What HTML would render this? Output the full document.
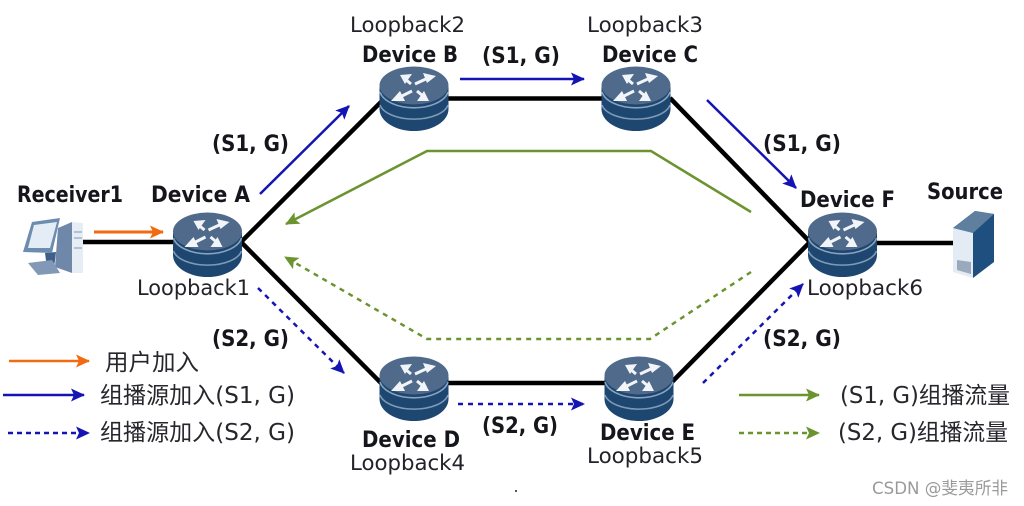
<!DOCTYPE html>
<html><head><meta charset="utf-8">
<style>
html,body{margin:0;padding:0;background:#fff;width:1024px;height:506px;overflow:hidden}
svg{display:block}
text{font-family:"DejaVu Sans","Noto Sans CJK SC",sans-serif}
.b{font-size:22px;font-weight:bold;fill:#15151c}
.l{font-size:21px;fill:#222228}
.z{font-size:23px;fill:#26262c}
</style></head><body>
<svg width="1024" height="506" viewBox="0 0 1024 506" xmlns="http://www.w3.org/2000/svg">
<defs>
<marker id="bl" markerWidth="15" markerHeight="15" refX="13" refY="7.500" orient="auto" markerUnits="userSpaceOnUse"><path d="M0 1L14 7.500L0 14L3 7.500z" fill="#1414b4"/></marker>
<marker id="gr" markerWidth="15" markerHeight="15" refX="13" refY="7.500" orient="auto" markerUnits="userSpaceOnUse"><path d="M0 1L14 7.500L0 14L3 7.500z" fill="#6b9430"/></marker>
<marker id="or" markerWidth="15" markerHeight="15" refX="13" refY="7.500" orient="auto" markerUnits="userSpaceOnUse"><path d="M0 1L14 7.500L0 14L3 7.500z" fill="#f26a12"/></marker>
<g id="r">
<path d="M-34.500 0V22A34.500 22 0 0 0 34.500 22V0z" fill="#1d4670"/>
<path d="M-34 5A34.500 19 0 0 0 34 5" fill="none" stroke="#8aa4bd" stroke-width="1.600"/>
<path d="M-34 18A34.500 17 0 0 0 34 18" fill="none" stroke="#7f9ab5" stroke-width="1.600"/>
<ellipse cx="0" cy="-1.500" rx="34.500" ry="19" fill="#506a8c"/>
<g stroke="#f2f5f8" stroke-width="3" fill="none">
<path d="M1 -3L14 -9"/><path d="M-3 -3L-9 -8"/><path d="M-2 4L-14 10"/><path d="M3 4L9 9"/>
</g>
<path d="M22 -11L9 -14L13 -4zM-14 -12L-2 -13L-9 -3zM-23 14L-9 14L-14 4zM15 14L3 14L10 4z" fill="#f2f5f8"/>
</g>
</defs>
<g stroke="#000" stroke-width="4.500" fill="none">
<path d="M70 242H175"/>
<path d="M241 242L381 102"/>
<path d="M241 242L381 383"/>
<path d="M448 98.500H604"/>
<path d="M448 383H606"/>
<path d="M670 98L810 242"/>
<path d="M672 382L810 242"/>
<path d="M875 243H955"/>
</g>
<path d="M94 232H163" stroke="#f26a12" stroke-width="3" fill="none" marker-end="url(#or)"/>
<path d="M260 194L349 106" stroke="#1414b4" stroke-width="2.500" fill="none" marker-end="url(#bl)"/>
<path d="M460 79H584" stroke="#1414b4" stroke-width="2.500" fill="none" marker-end="url(#bl)"/>
<path d="M707 100L796 188" stroke="#1414b4" stroke-width="2.500" fill="none" marker-end="url(#bl)"/>
<path d="M258 288L344 373" stroke="#1414b4" stroke-width="2.500" stroke-dasharray="5 5" fill="none" marker-end="url(#bl)"/>
<path d="M458 404H584" stroke="#1414b4" stroke-width="2.500" stroke-dasharray="5 5" fill="none" marker-end="url(#bl)"/>
<path d="M703 383L803 284" stroke="#1414b4" stroke-width="2.500" stroke-dasharray="5 5" fill="none" marker-end="url(#bl)"/>
<path d="M751 212L651 151H427L286 224" stroke="#6b9430" stroke-width="2.500" fill="none" marker-end="url(#gr)"/>
<path d="M751 272L650 339H427L285 257" stroke="#6b9430" stroke-width="2.500" stroke-dasharray="5 5" fill="none" marker-end="url(#gr)"/>
<use href="#r" x="207.500" y="233"/>
<use href="#r" x="414" y="87"/>
<use href="#r" x="636" y="87"/>
<use href="#r" x="414" y="377"/>
<use href="#r" x="639" y="377"/>
<use href="#r" x="842.500" y="233"/>
<g>
<path d="M72 222L83 223V273L72 273z" fill="#e6edf5"/>
<path d="M58 228L72 222V273L55 267z" fill="#6f88aa"/>
<path d="M45 253L56 252L54 268L47 268z" fill="#3f5f88"/>
<path d="M28 263L52 260L60 273L38 275z" fill="#8199b6"/>
<path d="M32 222L60 218L52 253L23 252z" fill="#6c8cb0"/>
<path d="M34 225L57 222L50 248L28 248z" fill="#e4ecf5"/>
<path d="M74 232H82M74 238H82M74 248H82" stroke="#9fb3ca" stroke-width="1.500"/>
</g>
<g>
<path d="M953 228L975 211L994 214V262L973 278z" fill="#1f4f7f"/>
<path d="M953 228L975 211L994 214L973 233z" fill="#5f7f9f"/>
<path d="M953 228L973 233V278L953 272z" fill="#e3ebf4"/>
<path d="M957 260L971 262V274L957 270z" fill="#9aa9bb"/>
</g>
<text class="b" x="17" y="202" textLength="106" lengthAdjust="spacingAndGlyphs">Receiver1</text>
<text class="b" x="151" y="202" textLength="99" lengthAdjust="spacingAndGlyphs">Device A</text>
<text class="b" x="362" y="62" textLength="96" lengthAdjust="spacingAndGlyphs">Device B</text>
<text class="b" x="602" y="62" textLength="96" lengthAdjust="spacingAndGlyphs">Device C</text>
<text class="b" x="362" y="447" textLength="98" lengthAdjust="spacingAndGlyphs">Device D</text>
<text class="b" x="600" y="440" textLength="95" lengthAdjust="spacingAndGlyphs">Device E</text>
<text class="b" x="800" y="207" textLength="95" lengthAdjust="spacingAndGlyphs">Device F</text>
<text class="b" x="927" y="199" textLength="76" lengthAdjust="spacingAndGlyphs">Source</text>
<text class="l" x="137" y="295" textLength="113" lengthAdjust="spacingAndGlyphs">Loopback1</text>
<text class="l" x="350" y="32" textLength="115" lengthAdjust="spacingAndGlyphs">Loopback2</text>
<text class="l" x="587" y="32" textLength="116" lengthAdjust="spacingAndGlyphs">Loopback3</text>
<text class="l" x="350" y="470" textLength="115" lengthAdjust="spacingAndGlyphs">Loopback4</text>
<text class="l" x="587" y="463" textLength="116" lengthAdjust="spacingAndGlyphs">Loopback5</text>
<text class="l" x="807" y="295" textLength="116" lengthAdjust="spacingAndGlyphs">Loopback6</text>
<text class="b" x="212" y="151" textLength="77" lengthAdjust="spacingAndGlyphs">(S1, G)</text>
<text class="b" x="482" y="63" textLength="78" lengthAdjust="spacingAndGlyphs">(S1, G)</text>
<text class="b" x="763" y="151" textLength="78" lengthAdjust="spacingAndGlyphs">(S1, G)</text>
<text class="b" x="212" y="346" textLength="77" lengthAdjust="spacingAndGlyphs">(S2, G)</text>
<text class="b" x="482" y="433" textLength="76" lengthAdjust="spacingAndGlyphs">(S2, G)</text>
<text class="b" x="763" y="346" textLength="78" lengthAdjust="spacingAndGlyphs">(S2, G)</text>
<path d="M9 361H89" stroke="#f26a12" stroke-width="2.500" fill="none" marker-end="url(#or)"/>
<path d="M3 395H84" stroke="#1414b4" stroke-width="2.500" fill="none" marker-end="url(#bl)"/>
<path d="M8 433H89" stroke="#1414b4" stroke-width="2.500" stroke-dasharray="5 4" fill="none" marker-end="url(#bl)"/>
<path d="M739 395H819" stroke="#6b9430" stroke-width="2.500" fill="none" marker-end="url(#gr)"/>
<path d="M739 433H819" stroke="#6b9430" stroke-width="2.500" stroke-dasharray="5 4" fill="none" marker-end="url(#gr)"/>
<text class="z" x="105" y="370" textLength="94" lengthAdjust="spacingAndGlyphs">用户加入</text>
<text class="z" x="100" y="403" textLength="195" lengthAdjust="spacingAndGlyphs">组播源加入(S1, G)</text>
<text class="z" x="100" y="440" textLength="195" lengthAdjust="spacingAndGlyphs">组播源加入(S2, G)</text>
<text class="z" x="840" y="403" textLength="170" lengthAdjust="spacingAndGlyphs">(S1, G)组播流量</text>
<text class="z" x="838" y="440" textLength="170" lengthAdjust="spacingAndGlyphs">(S2, G)组播流量</text>
<text x="872" y="494" textLength="136" lengthAdjust="spacingAndGlyphs" style="font-size:17px;fill:#9a9a9a">CSDN @斐夷所非</text>
<circle cx="516" cy="491" r="1" fill="#222"/>
</svg>
</body></html>
